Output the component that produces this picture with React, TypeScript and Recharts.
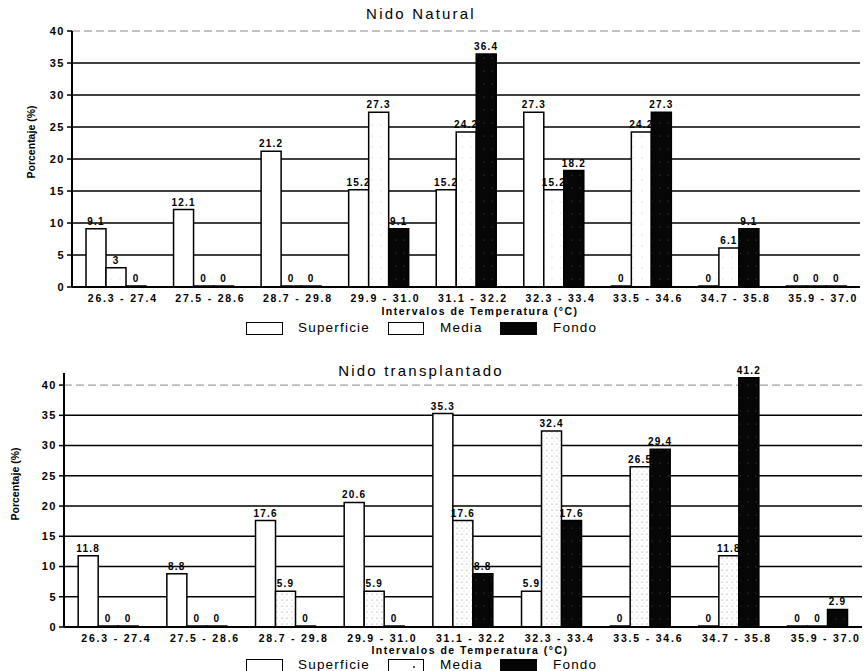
import React from 'react';
import { BarChart, Bar, XAxis, YAxis, CartesianGrid, LabelList, Legend, Label } from 'recharts';

const categories = ['26.3 - 27.4', '27.5 - 28.6', '28.7 - 29.8', '29.9 - 31.0', '31.1 - 32.2', '32.3 - 33.4', '33.5 - 34.6', '34.7 - 35.8', '35.9 - 37.0'];

const naturalSuperficie = [9.1, 12.1, 21.2, 15.2, 15.2, 27.3, 0, 0, 0];
const naturalMedia = [3, 0, 0, 27.3, 24.2, 15.2, 24.2, 6.1, 0];
const naturalFondo = [0, 0, 0, 9.1, 36.4, 18.2, 27.3, 9.1, 0];

const transSuperficie = [11.8, 8.8, 17.6, 20.6, 35.3, 5.9, 0, 0, 0];
const transMedia = [0, 0, 5.9, 5.9, 17.6, 32.4, 26.5, 11.8, 0];
const transFondo = [0, 0, 0, 0, 8.8, 17.6, 29.4, 41.2, 2.9];

const yTicks = [0, 5, 10, 15, 20, 25, 30, 35, 40];
const gridValues = [5, 10, 15, 20, 25, 30, 35];

const FONT = '"Liberation Sans", Arial, sans-serif';

const build = (s: number[], m: number[], f: number[]) =>
  categories.map((c, i) => ({ cat: c, superficie: s[i], media: m[i], fondo: f[i] }));

const naturalData = build(naturalSuperficie, naturalMedia, naturalFondo);
const transData = build(transSuperficie, transMedia, transFondo);

const ValueLabel = (props: any) => {
  const vb = props.viewBox || {};
  const x = props.x ?? vb.x;
  const y = props.y ?? vb.y;
  const width = props.width ?? vb.width ?? 0;
  const value = props.value;
  if (x == null || y == null || value == null) return null;
  return (
    <text x={x + width / 2} y={y - 4} textAnchor="middle" fontFamily={FONT} fontSize={10} fontWeight="bold" letterSpacing={1.2} fill="#000">
      {String(value)}
    </text>
  );
};

const LegendBox = ({ mediaDots }: { mediaDots: boolean }) => (
  <div style={{ position: 'relative', width: 864, height: 18, fontFamily: FONT, fontSize: 13.5, letterSpacing: 1.2, color: '#000' }}>
    <div style={{ position: 'absolute', left: 246, top: 3, width: 35, height: 11, border: '1.5px solid #000', background: '#fff' }} />
    <div style={{ position: 'absolute', left: 298, top: 0, lineHeight: '18px' }}>Superficie</div>
    <div style={{ position: 'absolute', left: 388, top: 3, width: 34, height: 11, border: '1.5px solid #000', background: '#fff' }}>
      {mediaDots ? <div style={{ position: 'absolute', left: 24, top: 6, width: 2, height: 2, background: '#555' }} /> : null}
    </div>
    <div style={{ position: 'absolute', left: 440, top: 0, lineHeight: '18px' }}>Media</div>
    <div style={{ position: 'absolute', left: 500, top: 3, width: 37, height: 13, background: '#050505' }} />
    <div style={{ position: 'absolute', left: 553, top: 0, lineHeight: '18px' }}>Fondo</div>
  </div>
);

type ChartProps = {
  data: any[];
  title: string;
  domainMax: number;
  margin: { top: number; right: number; left: number; bottom: number };
  yWidth: number;
  yLabelX: number;
  yLabelY: number;
  xLabelX: number;
  xLabelY: number;
  mediaFill: string;
  xTickDx: number;
  titleTop: number;
  mediaDots: boolean;
  xHeight: number;
};

const Chart = (p: ChartProps) => (
  <div style={{ position: 'relative', width: 864, height: 340 }}>
    <div style={{ position: 'absolute', left: 0, top: p.titleTop, width: 842, textAlign: 'center', fontFamily: FONT, fontSize: 15, letterSpacing: 2.2, color: '#000', lineHeight: '18px' }}>
      {p.title}
    </div>
    <BarChart width={864} height={340} data={p.data} margin={p.margin} barCategoryGap="16%" barGap={0}>
      <defs>
        <pattern id="mediaTop" width="9" height="11" patternUnits="userSpaceOnUse">
          <rect width="9" height="11" fill="#fff" />
          <circle cx="3" cy="4" r="0.5" fill="#bbb" />
        </pattern>
        <pattern id="mediaBot" width="5" height="6" patternUnits="userSpaceOnUse">
          <rect width="5" height="6" fill="#fff" />
          <circle cx="2" cy="2" r="0.6" fill="#888" />
          <circle cx="4" cy="5" r="0.4" fill="#aaa" />
        </pattern>
        <pattern id="fondoPat" width="8" height="13" patternUnits="userSpaceOnUse">
          <rect width="8" height="13" fill="#060606" />
          <circle cx="4" cy="6" r="0.5" fill="#666" />
        </pattern>
      </defs>
      <CartesianGrid horizontalValues={gridValues} vertical={false} stroke="#000" strokeWidth={1.5} />
      <CartesianGrid horizontalValues={[40]} vertical={false} stroke="#888" strokeWidth={1} strokeDasharray="8 4" />
      <XAxis
        dataKey="cat"
        height={p.xHeight}
        interval={0}
        axisLine={{ stroke: '#000', strokeWidth: 2 }}
        tickLine={false}
        tick={{ fill: '#000', fontSize: 10.5, fontWeight: 'bold', fontFamily: FONT, letterSpacing: 1.8, dx: p.xTickDx } as any}
      >
        <Label
          content={() => (
            <text x={p.xLabelX} y={p.xLabelY} textAnchor="middle" fontFamily={FONT} fontSize={10.5} fontWeight="bold" letterSpacing={1.5} fill="#000">
              Intervalos de Temperatura (°C)
            </text>
          )}
        />
      </XAxis>
      <YAxis
        width={p.yWidth}
        domain={[0, p.domainMax]}
        ticks={yTicks}
        interval={0}
        allowDataOverflow
        axisLine={{ stroke: '#000', strokeWidth: 2 }}
        tickLine={{ stroke: '#000', strokeWidth: 1.5 }}
        tickSize={5}
        tick={{ fill: '#000', fontSize: 11, fontWeight: 'bold', fontFamily: FONT, letterSpacing: 1.5 } as any}
      >
        <Label
          content={() => (
            <text
              x={p.yLabelX}
              y={p.yLabelY}
              transform={`rotate(-90 ${p.yLabelX} ${p.yLabelY})`}
              textAnchor="middle"
              dominantBaseline="middle"
              fontFamily={FONT}
              fontSize={10.5}
              fontWeight="bold"
              fill="#000"
            >
              Porcentaje (%)
            </text>
          )}
        />
      </YAxis>
      <Legend verticalAlign="bottom" content={() => <LegendBox mediaDots={p.mediaDots} />} wrapperStyle={{ left: 0, width: 864 }} />
      <Bar dataKey="superficie" name="Superficie" fill="#fff" stroke="#000" strokeWidth={1.5} minPointSize={1} isAnimationActive={false}>
        <LabelList dataKey="superficie" content={ValueLabel} />
      </Bar>
      <Bar dataKey="media" name="Media" fill={p.mediaFill} stroke="#000" strokeWidth={1.5} minPointSize={1} isAnimationActive={false}>
        <LabelList dataKey="media" content={ValueLabel} />
      </Bar>
      <Bar dataKey="fondo" name="Fondo" fill="url(#fondoPat)" stroke="#000" strokeWidth={1.5} minPointSize={1} isAnimationActive={false}>
        <LabelList dataKey="fondo" content={ValueLabel} />
      </Bar>
    </BarChart>
  </div>
);

export default function App() {
  return (
    <div style={{ position: 'absolute', left: 0, top: 0, width: 864, height: 671, overflow: 'hidden', background: '#fff' }}>
      <Chart
        data={naturalData}
        title="Nido Natural"
        domainMax={40}
        margin={{ top: 31, right: 4, left: 0, bottom: 3 }}
        yWidth={72}
        yLabelX={32}
        yLabelY={142}
        xLabelX={480}
        xLabelY={315}
        mediaFill="url(#mediaTop)"
        xTickDx={7}
        titleTop={5}
        mediaDots={false}
        xHeight={32}
      />
      <Chart
        data={transData}
        title="Nido transplantado"
        domainMax={42}
        margin={{ top: 33, right: 2, left: 0, bottom: 6 }}
        yWidth={64}
        yLabelX={16}
        yLabelY={144}
        xLabelX={470}
        xLabelY={314}
        mediaFill="url(#mediaBot)"
        xTickDx={8}
        titleTop={22}
        mediaDots={true}
        xHeight={29}
      />
    </div>
  );
}
